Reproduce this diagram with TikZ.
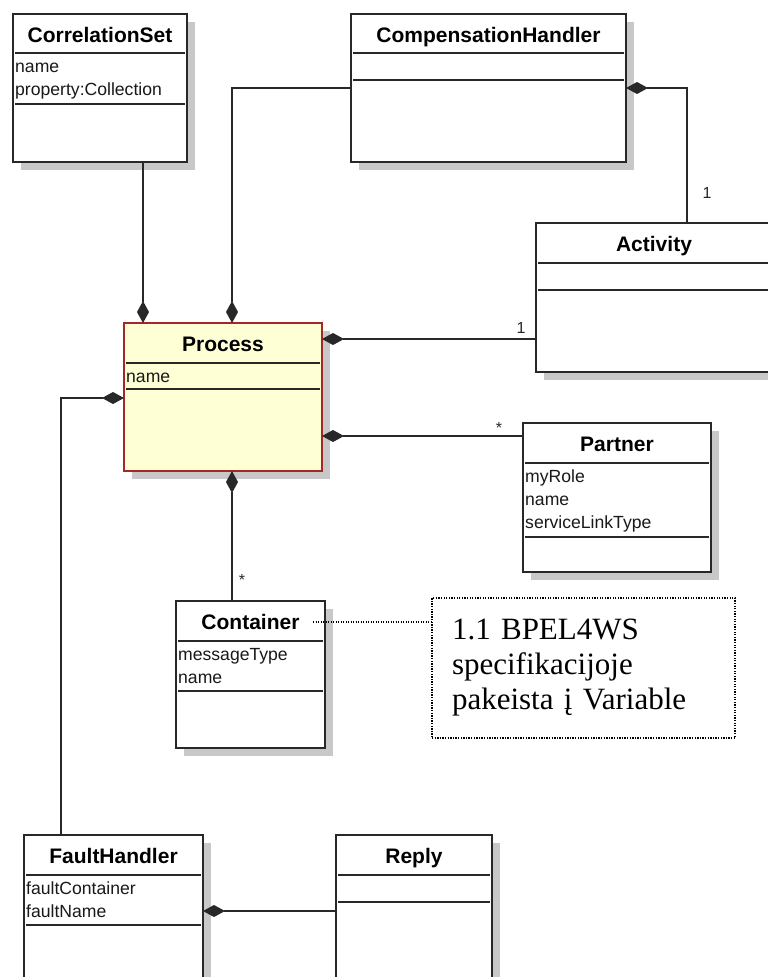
\documentclass[tikz,border=0pt]{standalone}
\usepackage{fontspec}
\setmainfont{Liberation Sans}
\newfontfamily\notefont{Liberation Serif}
\usetikzlibrary{arrows.meta}

\definecolor{boxshadow}{RGB}{200,200,200}
\definecolor{inkgray}{RGB}{40,40,40}
\definecolor{procfill}{RGB}{255,255,213}
\definecolor{procedge}{RGB}{165,40,40}

\tikzset{
  classbox/.style={draw=inkgray, fill=white, line width=1.3pt, inner sep=0pt, outer sep=0pt},
  processbox/.style={classbox, draw=procedge, fill=procfill},
  sepline/.style={draw=inkgray, line width=1.2pt},
  classtitle/.style={font=\fontsize{21}{25}\selectfont\bfseries, text=black, inner sep=0pt, anchor=base},
  attr/.style={font=\fontsize{17.6}{21}\selectfont, text=black!90, inner sep=0pt, anchor=base west},
  mult/.style={font=\fontsize{16}{19}\selectfont, text=black!85, inner sep=0pt, anchor=base},
  comp/.style={draw=inkgray, line width=1.3pt, {Diamond[length=22pt,width=12pt]}-},
  notebox/.style={draw=black, line width=1.3pt, dash pattern=on 1.3pt off 1.3pt, inner ysep=0pt, outer sep=0pt},
  notelink/.style={draw=black, line width=1.2pt, dash pattern=on 1pt off 1.5pt},
}

% #1 name/title, #2 left, #3 top, #4 right, #5 bottom,
% #6 first separator, #7 second separator, #8 box style
\newcommand{\umlclass}[8]{%
  \fill[boxshadow] (#2+8,#3+8) rectangle (#4+8,#5+8);
  \node[#8, anchor=north west, minimum width={#4-#2}, minimum height={#5-#3}] (#1) at (#2,#3) {};
  \draw[sepline] (#2+2,#6) -- (#4-2,#6);
  \draw[sepline] (#2+2,#7) -- (#4-2,#7);
  \node[classtitle] (#1-title) at ({(#2+#4)/2},#3+28) {#1};
}

\begin{document}
\begin{tikzpicture}[x=1pt, y=-1pt]
\useasboundingbox (0,0) rectangle (768,977);
\clip (0,0) rectangle (768,977);

% classes
\umlclass{CorrelationSet}{13}{14}{187}{162}{53}{104}{classbox}
\umlclass{CompensationHandler}{351}{14}{626}{162}{53}{80}{classbox}
\umlclass{Activity}{536}{223}{772}{372}{263}{290}{classbox}
\umlclass{Process}{124}{323}{322}{471}{363}{389}{processbox}
\umlclass{Partner}{523}{423}{711}{572}{463}{537}{classbox}
\umlclass{Container}{176}{601}{325}{748}{641}{691}{classbox}
\umlclass{FaultHandler}{24}{835}{203}{995}{875}{925}{classbox}
\umlclass{Reply}{336}{835}{492}{995}{875}{902}{classbox}

% attributes
\node[attr] (cs-name) at (15,72) {name};
\node[attr] (cs-property) at (15,95) {property:Collection};
\node[attr] (proc-name) at (126,382) {name};
\node[attr] (partner-role) at (525,482) {myRole};
\node[attr] (partner-name) at (525,505) {name};
\node[attr] (partner-link) at (525,528) {serviceLinkType};
\node[attr] (cont-type) at (178,660) {messageType};
\node[attr] (cont-name) at (178,683) {name};
\node[attr] (fh-container) at (26,894) {faultContainer};
\node[attr] (fh-name) at (26,917) {faultName};

% compositions
\draw[comp] (Process.north -| 143,0) -- (CorrelationSet.south -| 143,0);
\draw[comp] (Process.north -| 232,0) |- (CompensationHandler.west |- 0,88);
\draw[comp] (CompensationHandler.east |- 0,88) -| (Activity.north -| 687,0);
\draw[comp] (Process.east |- 0,339) -- (Activity.west |- 0,339);
\draw[comp] (Process.east |- 0,436) -- (Partner.west |- 0,436);
\draw[comp] (Process.south -| 232,0) -- (Container.north -| 232,0);
\draw[comp] (Process.west |- 0,398) -| (FaultHandler.north -| 61,0);
\draw[comp] (FaultHandler.east |- 0,911) -- (Reply.west |- 0,911);

% multiplicities
\node[mult] (m-act-top) at (707,198) {1};
\node[mult] (m-act-left) at (521,333) {1};
\node[mult] (m-partner) at (499,433) {*};
\node[mult] (m-container) at (242,585) {*};

% note
\node[notebox, anchor=north west, minimum width=303pt, minimum height=140pt,
      text width=263pt, align=left, inner xsep=20pt,
      font=\notefont\fontsize{31}{35}\selectfont] (note) at (432,598)
  {1.1 BPEL4WS\\specifikacijoje\\pakeista į Variable};
\coordinate (notelinkstart) at (313,622);
\draw[notelink] (notelinkstart) -- (note.west |- notelinkstart);
\end{tikzpicture}
\end{document}
